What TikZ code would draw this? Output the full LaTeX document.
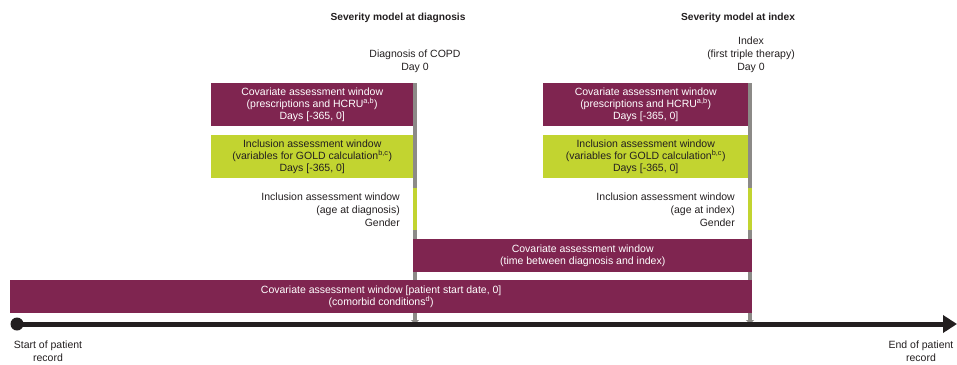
\documentclass[tikz,border=0pt]{standalone}
\usepackage{fontspec}
\setmainfont{Liberation Sans}
\usetikzlibrary{arrows.meta}
\definecolor{wine}{HTML}{7F2550}
\definecolor{lime}{HTML}{C2D430}
\definecolor{marker}{HTML}{8C8A87}
\definecolor{ink}{HTML}{231F20}
\begin{document}
\begin{tikzpicture}[x=1pt,y=-1pt,
  body/.style={font=\fontsize{10.5}{12.8}\selectfont, text=ink, inner sep=0pt},
  title/.style={font=\bfseries\fontsize{10.2}{12}\selectfont, text=ink, inner sep=0pt},
  winbox/.style={draw=none, inner sep=0pt, anchor=north west, align=center,
    font=\fontsize{10.5}{12.4}\selectfont},
  covbox/.style={winbox, fill=wine, text=white},
  inclbox/.style={winbox, fill=lime, text=ink},
  markerline/.style={draw=marker, line width=4pt,
    -{Triangle[width=8pt,length=4pt]}},
  pointwin/.style={draw=lime, line width=4pt},
  timeline/.style={draw=ink, line width=5pt,
    -{Triangle[width=17pt,length=14pt]}}]
\useasboundingbox (0,0) rectangle (957,364);

% headings
\node[title] (tdiag) at (398,18) {Severity model at diagnosis};
\node[title] (tindex) at (738,18) {Severity model at index};

% reference days
\node[body, align=center] (ldiag) at (415,61.5) {Diagnosis of COPD\\Day 0};
\node[body, align=center] (lindex) at (751,55) {Index\\(first triple therapy)\\Day 0};

% day-0 markers
\coordinate (dtop) at (415,83);
\coordinate (dbot) at (415,324);
\coordinate (itop) at (750,83);
\coordinate (ibot) at (750,324);
\draw[markerline] (dtop) -- (dbot);
\draw[markerline] (itop) -- (ibot);

% single-day inclusion windows on the markers
\coordinate (dpa) at (415,188);
\coordinate (dpb) at (415,230);
\coordinate (ipa) at (750,188);
\coordinate (ipb) at (750,230);
\draw[pointwin] (dpa) -- (dpb);
\draw[pointwin] (ipa) -- (ipb);

% windows before diagnosis
\node[covbox, minimum width=202pt, minimum height=43pt] (dcov) at (211,83)
  {Covariate assessment window\\(prescriptions and HCRU\textsuperscript{a,b})\\Days [-365, 0]};
\node[inclbox, minimum width=202pt, minimum height=43pt] (dincl) at (211,135)
  {Inclusion assessment window\\(variables for GOLD calculation\textsuperscript{b,c})\\Days [-365, 0]};
\node[body, align=right, anchor=east] (dage) at (400,210)
  {Inclusion assessment window\\(age at diagnosis)\\Gender};

% windows before index
\node[covbox, minimum width=205pt, minimum height=43pt] (icov) at (543,83)
  {Covariate assessment window\\(prescriptions and HCRU\textsuperscript{a,b})\\Days [-365, 0]};
\node[inclbox, minimum width=205pt, minimum height=43pt] (iincl) at (543,135)
  {Inclusion assessment window\\(variables for GOLD calculation\textsuperscript{b,c})\\Days [-365, 0]};
\node[body, align=right, anchor=east] (iage) at (735,210)
  {Inclusion assessment window\\(age at index)\\Gender};

% long windows
\node[covbox, minimum width=339pt, minimum height=33pt] (between) at (413,239)
  {Covariate assessment window\\(time between diagnosis and index)};
\node[covbox, minimum width=742pt, minimum height=33pt] (comorb) at (10,280)
  {Covariate assessment window [patient start date, 0]\\(comorbid conditions\textsuperscript{d})};

% patient record timeline
\node[circle, fill=ink, minimum size=13pt, inner sep=0pt] (start) at (17,324) {};
\coordinate (finish) at (957,324);
\draw[timeline] (start.center) -- (finish);

\node[body, align=center] (lstart) at (48,351) {Start of patient\\record};
\node[body, align=center] (lend) at (921,351) {End of patient\\record};
\end{tikzpicture}
\end{document}
